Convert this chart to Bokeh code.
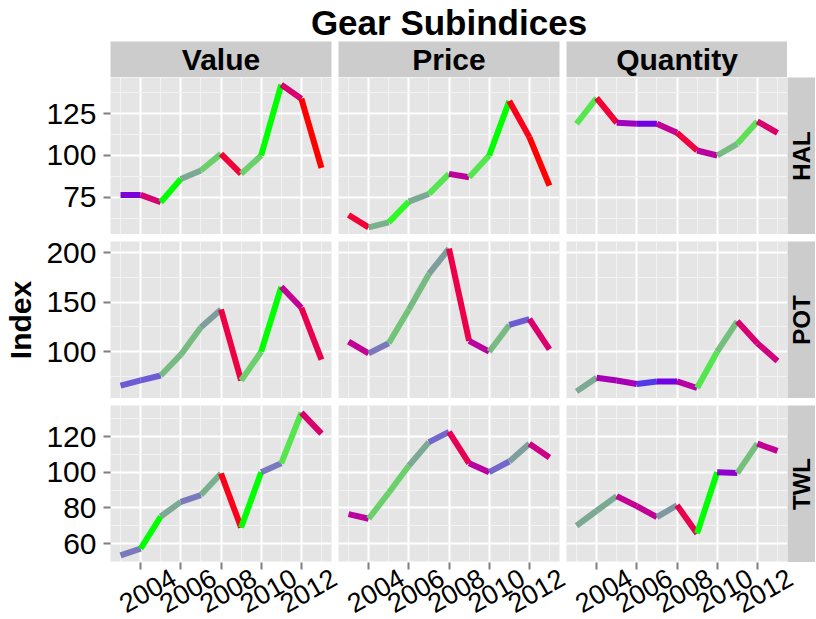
import math
from bokeh.plotting import figure
from bokeh.models import (Range1d, FixedTicker, ColumnDataSource, LabelSet, GridBox,
                          CustomJSTickFormatter, LinearAxis)
from bokeh.embed import file_html
from bokeh.resources import INLINE
from bokeh.core.properties import value

# ---------------- data ----------------
TITLE = "Gear Subindices"
years = list(range(2003, 2014))
measures = ["Value", "Price", "Quantity"]
regions = ["HAL", "POT", "TWL"]
x_tick_years = [2004, 2006, 2008, 2010, 2012]
x_tick_labels = ["2004", "2006", "2008", "2010", "2012"]
y_ticks_hal = [75, 100, 125]
y_ticks_pot = [100, 150, 200]
y_ticks_twl = [60, 80, 100, 120]

hal_value = [76.4, 76.4, 72.0, 86.0, 91.0, 101.0, 89.0, 100.0, 142.4, 134.0, 92.6]
hal_price = [64.4, 57.0, 60.0, 72.4, 77.0, 89.0, 87.0, 100.0, 132.6, 111.0, 82.0]
hal_quantity = [119.0, 134.4, 119.6, 119.0, 119.0, 113.6, 103.0, 100.0, 107.0, 120.4, 113.6]
pot_value = [65.8, 71.0, 76.0, 97.0, 124.6, 142.6, 71.0, 100.0, 165.5, 144.4, 92.0]
pot_price = [110.2, 98.3, 108.5, 142.6, 178.5, 204.0, 111.0, 100.0, 127.0, 133.0, 102.4]
pot_quantity = [60.0, 73.7, 71.0, 67.5, 70.0, 70.0, 63.4, 100.0, 130.7, 108.5, 90.7]
twl_value = [53.4, 57.2, 75.2, 83.4, 87.2, 99.3, 69.0, 100.0, 105.0, 133.4, 121.6]
twl_price = [76.5, 73.9, 88.5, 103.6, 116.9, 122.6, 105.0, 100.0, 106.0, 115.9, 108.3]
twl_quantity = [70.0, 78.4, 86.6, 81.0, 74.8, 81.5, 65.7, 100.0, 99.5, 116.0, 112.0]

# colour variable of each yearly segment (-1 = red, 0 = blue, +1 = green)
hal_value_col = [-0.15, -0.6, 1.0, 0.6, 0.78, -0.85, 0.78, 1.0, -0.62, -1.0]
hal_price_col = [-0.85, 0.63, 0.97, 0.6, 0.88, -0.42, 0.88, 1.0, -0.95, -1.0]
hal_quantity_col = [0.88, -0.85, -0.27, -0.12, -0.45, -0.82, -0.4, 0.68, 0.85, -0.62]
pot_value_col = [0.25, 0.25, 0.68, 0.68, 0.55, -0.8, 0.78, 1.0, -0.45, -0.75]
pot_price_col = [-0.45, 0.38, 0.72, 0.68, 0.55, -0.78, -0.4, 0.68, 0.25, -0.62]
pot_quantity_col = [0.6, -0.3, -0.3, 0.12, -0.12, -0.38, 0.88, 0.7, -0.6, -0.55]
twl_value_col = [0.38, 1.0, 0.6, 0.38, 0.63, -0.95, 1.0, 0.38, 0.88, -0.62]
twl_price_col = [-0.4, 0.78, 0.78, 0.6, 0.3, -0.72, -0.4, 0.3, 0.55, -0.52]
twl_quantity_col = [0.6, 0.6, -0.45, -0.45, 0.52, -0.75, 1.0, -0.2, 0.7, -0.45]

series = {
    ("HAL", "Value"): (hal_value, hal_value_col),
    ("HAL", "Price"): (hal_price, hal_price_col),
    ("HAL", "Quantity"): (hal_quantity, hal_quantity_col),
    ("POT", "Value"): (pot_value, pot_value_col),
    ("POT", "Price"): (pot_price, pot_price_col),
    ("POT", "Quantity"): (pot_quantity, pot_quantity_col),
    ("TWL", "Value"): (twl_value, twl_value_col),
    ("TWL", "Price"): (twl_price, twl_price_col),
    ("TWL", "Quantity"): (twl_quantity, twl_quantity_col),
}
row_ticks = [y_ticks_hal, y_ticks_pot, y_ticks_twl]

# ---------------- colour scale (red - blue - green, interpolated in Lab) ----------------
WHITE = (0.95047, 1.0, 1.08883)

def _lin(c):
    c = c / 255.0
    return c / 12.92 if c <= 0.04045 else ((c + 0.055) / 1.055) ** 2.4

def _gam(c):
    c = max(0.0, min(1.0, c))
    return 12.92 * c if c <= 0.0031308 else 1.055 * c ** (1 / 2.4) - 0.055

def hex_to_lab(h):
    r, g, b = (_lin(int(h[i:i + 2], 16)) for i in (1, 3, 5))
    X = 0.4124564 * r + 0.3575761 * g + 0.1804375 * b
    Y = 0.2126729 * r + 0.7151522 * g + 0.0721750 * b
    Z = 0.0193339 * r + 0.1191920 * g + 0.9503041 * b
    def f(t):
        return t ** (1 / 3) if t > (6 / 29) ** 3 else t / (3 * (6 / 29) ** 2) + 4 / 29
    fx, fy, fz = f(X / WHITE[0]), f(Y / WHITE[1]), f(Z / WHITE[2])
    return (116 * fy - 16, 500 * (fx - fy), 200 * (fy - fz))

def lab_to_hex(L, a, b):
    fy = (L + 16) / 116
    fx = fy + a / 500
    fz = fy - b / 200
    def finv(t):
        return t ** 3 if t > 6 / 29 else 3 * (6 / 29) ** 2 * (t - 4 / 29)
    X, Y, Z = WHITE[0] * finv(fx), WHITE[1] * finv(fy), WHITE[2] * finv(fz)
    r = 3.2404542 * X - 1.5371385 * Y - 0.4985314 * Z
    g = -0.9692660 * X + 1.8760108 * Y + 0.0415560 * Z
    bb = 0.0556434 * X - 0.2040259 * Y + 1.0572252 * Z
    return "#%02x%02x%02x" % tuple(int(round(_gam(c) * 255)) for c in (r, g, bb))

LOW, MID, HIGH = hex_to_lab("#ff0000"), hex_to_lab("#0000ff"), hex_to_lab("#00ff00")

def grad2(s):
    s = max(-1.0, min(1.0, s))
    end = HIGH if s >= 0 else LOW
    t = abs(s)
    return lab_to_hex(*(m + (e - m) * t for m, e in zip(MID, end)))

# ---------------- layout constants ----------------
FONT = "Liberation Sans"
PANEL_W, PANEL_H, GAP = 221, 157, 7
LEFT = 110
STRIP_H = 36
RSTRIP_W = 28
TITLE_H = 41
LAB_H = 56
TOTAL_W = LEFT + 3 * PANEL_W + 2 * GAP + RSTRIP_W

x_lo, x_hi = min(years), max(years)
x_pad = 0.05 * (x_hi - x_lo)
XR = Range1d(x_lo - x_pad, x_hi + x_pad)
PPU = PANEL_W / (XR.end - XR.start)          # pixels per year in every panel
COL_SHIFT = (PANEL_W + GAP) / PPU            # horizontal offset between columns, in years

def row_range(region):
    vals = [v for m in measures for v in series[(region, m)][0]]
    lo, hi = min(vals), max(vals)
    pad = 0.05 * (hi - lo)
    return Range1d(lo - pad, hi + pad)

YR = [row_range(r) for r in regions]

def minors(ticks):
    step = ticks[1] - ticks[0]
    return [ticks[0] - step / 2] + [t + step / 2 for t in ticks]

def bare(p):
    p.grid.visible = False
    return p

def style_ticks(ax, out, inside=0):
    ax.axis_line_color = None
    ax.major_tick_line_color = "#7F7F7F"
    ax.major_tick_line_width = 2
    ax.major_tick_in = inside
    ax.major_tick_out = out
    ax.minor_tick_line_color = None
    ax.major_label_text_font = FONT
    ax.major_label_text_color = "black"

def top_border(ri):
    return GAP if ri > 0 else 0

def make_panel(ri, ci):
    region, meas = regions[ri], measures[ci]
    ys, cs = series[(region, meas)]
    left = LEFT if ci == 0 else 0
    right = GAP if ci < 2 else 0
    top = top_border(ri)
    p = figure(width=left + PANEL_W + right, height=top + PANEL_H,
               x_range=XR, y_range=YR[ri],
               x_axis_location=None,
               y_axis_location="left" if ci == 0 else None,
               min_border_left=left, min_border_right=right,
               min_border_top=top, min_border_bottom=0,
               background_fill_color="#E5E5E5", border_fill_color="white",
               outline_line_color=None, output_backend="svg", toolbar_location=None)
    p.xgrid.ticker = FixedTicker(ticks=x_tick_years, minor_ticks=minors(x_tick_years))
    p.ygrid.ticker = FixedTicker(ticks=row_ticks[ri], minor_ticks=minors(row_ticks[ri]))
    for g in (p.xgrid[0], p.ygrid[0]):
        g.grid_line_color = "white"
        g.grid_line_width = 2
        g.minor_grid_line_color = "#F2F2F2"
        g.minor_grid_line_width = 1
    src = ColumnDataSource(dict(x0=years[:-1], x1=years[1:], y0=ys[:-1], y1=ys[1:],
                                color=[grad2(s) for s in cs]))
    p.segment(x0="x0", y0="y0", x1="x1", y1="y1", source=src,
              line_color="color", line_width=6, line_cap="butt")
    if ci == 0:
        ax = p.yaxis[0]
        ax.ticker = FixedTicker(ticks=row_ticks[ri])
        style_ticks(ax, 7)
        ax.major_label_text_font_size = "30px"
        ax.major_label_standoff = 7
        if ri == 1:
            ax.axis_label = "Index"
            ax.axis_label_text_font = FONT
            ax.axis_label_text_font_size = "30px"
            ax.axis_label_text_font_style = "bold"
            ax.axis_label_text_color = "black"
            ax.axis_label_standoff = 6
    return p

def make_top_strip(ci):
    left = LEFT if ci == 0 else 0
    right = GAP if ci < 2 else 0
    p = figure(width=left + PANEL_W + right, height=STRIP_H,
               x_range=Range1d(0, 1), y_range=Range1d(0, 1),
               x_axis_location=None, y_axis_location=None,
               min_border_left=left, min_border_right=right, min_border_top=0, min_border_bottom=0,
               background_fill_color="#CCCCCC", border_fill_color="white",
               outline_line_color=None, output_backend="svg", toolbar_location=None)
    bare(p)
    p.text(x=[0.5], y=[0.5], text=[measures[ci]], text_align="center", text_baseline="middle",
           text_font=value(FONT), text_font_style="bold", text_font_size="30px", text_color="black")
    return p

def make_right_strip(ri):
    top = top_border(ri)
    p = figure(width=RSTRIP_W, height=top + PANEL_H,
               x_range=Range1d(0, 1), y_range=Range1d(0, 1),
               x_axis_location=None, y_axis_location=None,
               min_border_left=0, min_border_right=0, min_border_top=top, min_border_bottom=0,
               background_fill_color="#CCCCCC", border_fill_color="white",
               outline_line_color=None, output_backend="svg", toolbar_location=None)
    bare(p)
    p.text(x=[0.5], y=[0.5], text=[regions[ri]], angle=math.pi / 2,
           text_align="center", text_baseline="middle",
           text_font=value(FONT), text_font_style="bold", text_font_size="24px", text_color="black")
    return p

# Figures spanning the whole width (title, bottom axis): their frame starts where column 0's
# panel starts and runs to the right edge; x is in years with the panels' pixels-per-year.
def wide_fig(h):
    p = figure(width=TOTAL_W, height=h,
               x_range=Range1d(XR.start, XR.start + (TOTAL_W - LEFT) / PPU), y_range=Range1d(0, 1),
               x_axis_location=None, y_axis_location=None,
               min_border_left=LEFT, min_border_right=0, min_border_top=0, min_border_bottom=0,
               background_fill_color=None, border_fill_color=None,
               outline_line_color=None, output_backend="svg", toolbar_location=None)
    return bare(p)

# bottom axis of the three bottom panels: tick marks + rotated year labels
lab = wide_fig(LAB_H)
lab_x, lab_t = [], []
for ci in range(3):
    lab_x += [yr + ci * COL_SHIFT for yr in x_tick_years]
    lab_t += x_tick_labels
tick_axis = LinearAxis(ticker=FixedTicker(ticks=lab_x),
                       formatter=CustomJSTickFormatter(code="return ''"))
style_ticks(tick_axis, 0, inside=7)
tick_axis.major_label_text_font_size = "0px"
tick_axis.major_label_standoff = 0
lab.add_layout(tick_axis, "above")
lab_src = ColumnDataSource(dict(x=lab_x, y=[1 - 28 / LAB_H] * len(lab_x), t=lab_t))
lab.add_layout(LabelSet(x="x", y="y", text="t", source=lab_src,
                        angle=math.pi / 6, text_align="center", text_baseline="middle", x_offset=7,
                        text_font=value(FONT), text_font_size="27px", text_color="black"))

# title, centred over the three panel columns
tf = wide_fig(TITLE_H)
title_x = XR.start + (3 * PANEL_W + 2 * GAP) / (2 * PPU)
tf.text(x=[title_x], y=[0.46], text=[TITLE], text_align="center", text_baseline="middle",
        text_font=value(FONT), text_font_style="bold", text_font_size="35px", text_color="black")

children = [(tf, 0, 0, 1, 4)]
for ci in range(3):
    children.append((make_top_strip(ci), 1, ci))
for ri in range(3):
    for ci in range(3):
        children.append((make_panel(ri, ci), 2 + ri, ci))
    children.append((make_right_strip(ri), 2 + ri, 3))
children.append((lab, 5, 0, 1, 4))

layout = GridBox(children=children, spacing=0)

open("out.html", "w").write(file_html(layout, INLINE))
